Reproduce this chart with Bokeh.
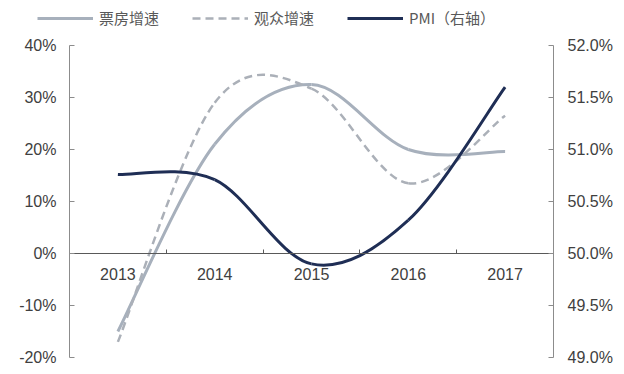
from bokeh.plotting import figure
from bokeh.models import (Range1d, LinearAxis, FixedTicker, PrintfTickFormatter,
                          Legend, LegendItem, ColumnDataSource)
from bokeh.embed import file_html
from bokeh.resources import INLINE

# ---- data ----
years = ["2013", "2014", "2015", "2016", "2017"]
box_office_growth = [-15.0, 21.0, 32.5, 20.0, 19.6]   # 票房增速 (%)
audience_growth = [-17.0, 29.0, 31.7, 13.5, 26.5]     # 观众增速 (%)
pmi = [50.76, 50.71, 49.90, 50.32, 51.60]             # PMI (%), right axis

left_ticks = [-20, -10, 0, 10, 20, 30, 40]
right_ticks = [49.0, 49.5, 50.0, 50.5, 51.0, 51.5, 52.0]

xpos = [i + 0.5 for i in range(len(years))]

# ---- layout (pixels) ----
W, H = 624, 374
PL, PR, PT, PB = 69, 553, 45, 357   # plot-area edges in the canvas


def padded(lo, hi, a0, a1, full):
    """Extend data range [lo,hi] mapped on pixels [a0,a1] to the pixels [0,full]."""
    k = (hi - lo) / (a1 - a0)
    return lo - a0 * k, hi + (full - a1) * k


def smooth_source(xs, ys):
    """Excel-style smoothed line: cubic Bezier segments between data points."""
    n = len(xs)
    d = dict(x0=[], y0=[], x1=[], y1=[], cx0=[], cy0=[], cx1=[], cy1=[])
    for i in range(n - 1):
        ip = max(i - 1, 0)
        inn = min(i + 2, n - 1)
        d["x0"].append(xs[i]); d["y0"].append(ys[i])
        d["x1"].append(xs[i + 1]); d["y1"].append(ys[i + 1])
        d["cx0"].append(xs[i] + (xs[i + 1] - xs[ip]) / 6)
        d["cy0"].append(ys[i] + (ys[i + 1] - ys[ip]) / 6)
        d["cx1"].append(xs[i + 1] - (xs[inn] - xs[i]) / 6)
        d["cy1"].append(ys[i + 1] - (ys[inn] - ys[i]) / 6)
    return ColumnDataSource(d)


xs0, xs1 = padded(0, len(years), PL, PR, W)
ys0, ys1 = padded(left_ticks[0], left_ticks[-1], H - PB, H - PT, H)
rs0, rs1 = padded(right_ticks[0], right_ticks[-1], H - PB, H - PT, H)

AXIS_COLOR = "#8c8c8c"
TEXT_COLOR = "#404040"
FONT = "Liberation Sans"

p = figure(width=W, height=H, x_range=Range1d(xs0, xs1), y_range=Range1d(ys0, ys1),
           output_backend="svg", toolbar_location=None,
           x_axis_location=None, y_axis_location=None,
           min_border=0, min_border_left=0, min_border_right=0,
           min_border_top=0, min_border_bottom=0)
p.extra_y_ranges = {"pmi": Range1d(rs0, rs1)}
p.outline_line_color = None
p.xgrid.visible = False
p.ygrid.visible = False
p.background_fill_color = "white"
p.border_fill_color = "white"


def style_y(ax, fmt, standoff):
    ax.formatter = PrintfTickFormatter(format=fmt)
    ax.major_tick_in = 5
    ax.major_tick_out = 0
    ax.minor_tick_line_color = None
    ax.axis_line_color = AXIS_COLOR
    ax.major_tick_line_color = AXIS_COLOR
    ax.major_label_text_color = TEXT_COLOR
    ax.major_label_text_font = FONT
    ax.major_label_text_font_size = "16px"
    ax.major_label_standoff = standoff


# left axis
ya = LinearAxis(ticker=FixedTicker(ticks=left_ticks),
                bounds=(left_ticks[0], left_ticks[-1]), fixed_location=0)
style_y(ya, "%d%%", 13)
p.add_layout(ya, "left")

# right axis
ra = LinearAxis(y_range_name="pmi", ticker=FixedTicker(ticks=right_ticks),
                bounds=(right_ticks[0], right_ticks[-1]), fixed_location=len(years))
style_y(ra, "%.1f%%", 14)
p.add_layout(ra, "right")

# category (x) axis crossing at 0%
xa = LinearAxis(ticker=FixedTicker(ticks=xpos, minor_ticks=list(range(1, len(years)))),
                bounds=(0, len(years)), fixed_location=0)
xa.major_label_overrides = {x: y for x, y in zip(xpos, years)}
xa.major_tick_line_color = None
xa.minor_tick_in = 4
xa.minor_tick_out = 0
xa.minor_tick_line_color = "#595959"
xa.axis_line_color = "#595959"
xa.major_label_text_color = TEXT_COLOR
xa.major_label_text_font = FONT
xa.major_label_text_font_size = "16px"
xa.major_label_standoff = 8
p.add_layout(xa, "below")

# series
r1 = p.bezier("x0", "y0", "x1", "y1", "cx0", "cy0", "cx1", "cy1",
              source=smooth_source(xpos, box_office_growth),
              line_color="#a7b0bc", line_width=3)
r2 = p.bezier("x0", "y0", "x1", "y1", "cx0", "cy0", "cx1", "cy1",
              source=smooth_source(xpos, audience_growth),
              line_color="#abb0b8", line_width=2.5, line_dash="8 5")
r3 = p.bezier("x0", "y0", "x1", "y1", "cx0", "cy0", "cx1", "cy1",
              source=smooth_source(xpos, pmi), y_range_name="pmi",
              line_color="#1f2e55", line_width=3)

legend = Legend(items=[LegendItem(label="票房增速", renderers=[r1], index=0),
                       LegendItem(label="观众增速", renderers=[r2], index=0),
                       LegendItem(label="PMI（右轴）", renderers=[r3], index=0)],
                orientation="horizontal", location=(37, H - 8 - 20),
                glyph_width=56, glyph_height=14, label_standoff=6, spacing=33,
                padding=0, margin=0, border_line_color=None,
                background_fill_alpha=0,
                label_text_font="Noto Sans CJK SC", label_text_font_size="15px",
                label_text_color="#595959")
p.add_layout(legend, "center")

open("out.html", "w").write(file_html(p, INLINE))
